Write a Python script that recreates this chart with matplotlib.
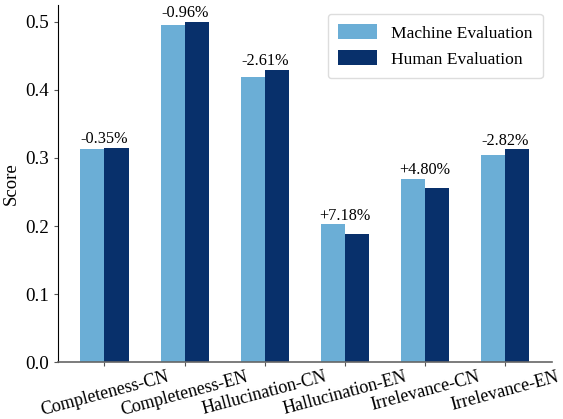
import numpy as np
import matplotlib.pyplot as plt

plt.rcParams['font.family'] = ['Liberation Serif', 'DejaVu Serif']

categories = ['Completeness-CN', 'Completeness-EN', 'Hallucination-CN',
              'Hallucination-EN', 'Irrelevance-CN', 'Irrelevance-EN']
machine = [0.3135, 0.4945, 0.4180, 0.2026, 0.2689, 0.3037]
human = [0.3146, 0.4993, 0.4292, 0.1890, 0.2566, 0.3125]
diff_labels = ['-0.35%', '-0.96%', '-2.61%', '+7.18%', '+4.80%', '-2.82%']

fig = plt.figure(figsize=(5.63, 4.19), dpi=100)
ax = fig.add_axes([0.103, 0.135, 0.877, 0.853])

x = np.arange(len(categories))
w = 0.3
ax.bar(x - w / 2, machine, w, color='#6baed6', label='Machine Evaluation')
ax.bar(x + w / 2, human, w, color='#08306b', label='Human Evaluation')

for i, lab in enumerate(diff_labels):
    top = max(machine[i], human[i])
    ax.text(x[i], top + 0.001, lab, ha='center', va='bottom', fontsize=11.7)

ax.set_xticks(x)
ax.set_xticklabels(categories, rotation=15, ha='center', fontsize=13)
ax.set_ylabel('Score', fontsize=13.5)
ax.set_ylim(0, 0.5243)
ax.set_yticks([0.0, 0.1, 0.2, 0.3, 0.4, 0.5])
ax.tick_params(axis='y', labelsize=13.7, length=3, color='#555555')
ax.tick_params(axis='x', length=3, color='#555555', pad=1.5)

ax.spines['top'].set_visible(False)
ax.spines['right'].set_visible(False)
ax.spines['bottom'].set_color('#666666')
ax.spines['bottom'].set_linewidth(1.2)

ax.legend(loc='upper right', fontsize=12.6, handlelength=2.2, handleheight=0.9,
          borderpad=0.6, labelspacing=0.5, framealpha=1, edgecolor='#dddddd')

fig.savefig('out.png', dpi=100)
